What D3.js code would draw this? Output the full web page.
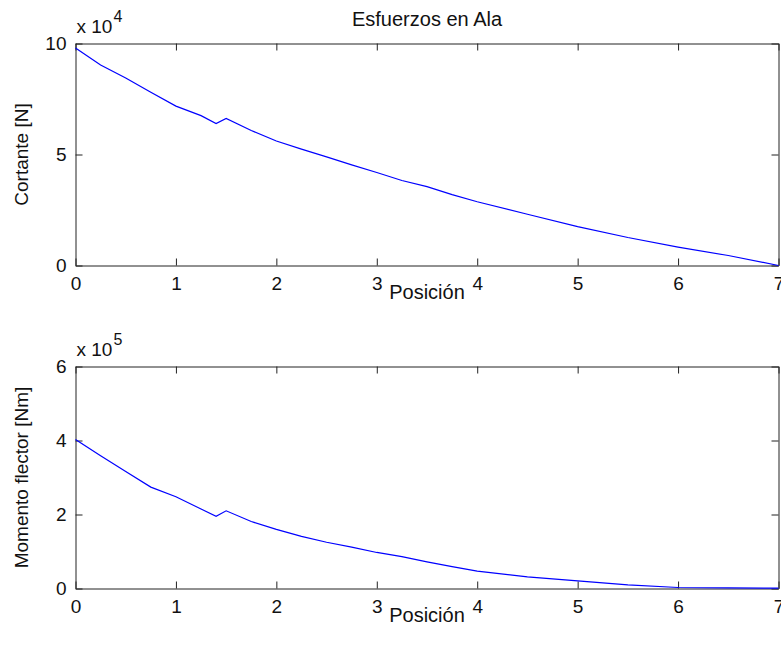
<!DOCTYPE html>
<html>
<head>
<meta charset="utf-8">
<script src="https://cdn.jsdelivr.net/npm/d3@7"></script>
<style>
  html, body { margin: 0; padding: 0; background: #fff; }
  svg { display: block; }
  text { font-family: "Liberation Sans", Arial, Helvetica, sans-serif; fill: #111; }
</style>
</head>
<body>
<svg id="chart" width="781" height="646"></svg>
<script>
// Span positions along the wing [m]
const positions = [0, 0.25, 0.5, 0.75, 1.0, 1.25, 1.4, 1.5, 1.75, 2.0, 2.25, 2.5, 2.75,
                   3.0, 3.25, 3.5, 3.75, 4.0, 4.5, 5.0, 5.5, 6.0, 6.5, 7.0];
// Shear force [N]
const shear = [98000, 90300, 84500, 78000, 71800, 67500, 63900, 66200, 60800, 56100, 52400, 48900, 45300,
               41900, 38300, 35500, 31900, 28700, 23100, 17500, 12600, 8300, 4500, 0];
// Bending moment [Nm]
const moment = [403000, 359000, 316000, 274000, 248000, 215000, 195000, 210000, 181000, 160000, 141000, 125000, 112000,
                97400, 86000, 72000, 59000, 47000, 31500, 20600, 9900, 2700, 1500, 1000];

const xTicks = [0, 1, 2, 3, 4, 5, 6, 7];
const shearTicks = [0, 50000, 100000];
const momentTicks = [0, 200000, 400000, 600000];

const title = "Esfuerzos en Ala";
const xLabel = "Posición";

const svg = d3.select("#chart");
const FS = 19;
const left = 75.5, right = 778.5;

const x = d3.scaleLinear().domain([0, 7]).range([left, right]);

function panel(opts) {
  const y = d3.scaleLinear().domain(opts.domain).range([opts.bottom, opts.top]);
  const g = svg.append("g");
  const axColor = "#222";
  const fmt = d => String(d / opts.scale);

  const bottomAxis = d3.axisBottom(x).tickValues(xTicks).tickSize(-7).tickSizeOuter(0).tickPadding(11).tickFormat(d3.format("d"));
  const topAxis = d3.axisTop(x).tickValues(xTicks).tickSize(-7).tickSizeOuter(0).tickFormat("");
  const leftAxis = d3.axisLeft(y).tickValues(opts.ticks).tickSize(-7).tickSizeOuter(0).tickPadding(9).tickFormat(fmt);
  const rightAxis = d3.axisRight(y).tickValues(opts.ticks).tickSize(-7).tickSizeOuter(0).tickFormat("");

  const axes = [
    [bottomAxis, `translate(0,${opts.bottom})`],
    [topAxis, `translate(0,${opts.top})`],
    [leftAxis, `translate(${left},0)`],
    [rightAxis, `translate(${right},0)`]
  ];
  axes.forEach(([ax, tr]) => {
    const a = g.append("g").attr("transform", tr).call(ax);
    a.selectAll("path.domain").attr("stroke", axColor).attr("stroke-width", 1);
    a.selectAll(".tick line").attr("stroke", axColor).attr("stroke-width", 1);
    a.selectAll("text").attr("font-size", FS).attr("fill", "#111")
      .style("font-family", '"Liberation Sans", Arial, sans-serif');
  });

  // data curve
  const line = d3.line().x((d, i) => x(positions[i])).y(d => y(d));
  g.append("path").datum(opts.values)
    .attr("d", line)
    .attr("fill", "none")
    .attr("stroke", "#0000ff")
    .attr("stroke-width", 1.2);

  // exponent multiplier
  const ex = g.append("text").attr("x", left + 1).attr("y", opts.top - 10.5).attr("font-size", 19);
  ex.append("tspan").text("x 10");
  ex.append("tspan").attr("dx", 1).attr("dy", -11).attr("font-size", 16).text(opts.exp);

  // y label
  g.append("text")
    .attr("transform", `translate(28,${(opts.top + opts.bottom) / 2}) rotate(-90)`)
    .attr("text-anchor", "middle")
    .attr("font-size", FS)
    .text(opts.yLabel);

  // x label
  g.append("text")
    .attr("x", (left + right) / 2)
    .attr("y", opts.bottom + 33.5)
    .attr("text-anchor", "middle")
    .attr("font-size", 20)
    .text(xLabel);
}

panel({ top: 43.5, bottom: 265.5, domain: [0, 100000], ticks: shearTicks, scale: 10000,
        values: shear, exp: "4", yLabel: "Cortante [N]" });
panel({ top: 366.5, bottom: 588.5, domain: [0, 600000], ticks: momentTicks, scale: 100000,
        values: moment, exp: "5", yLabel: "Momento flector [Nm]" });

svg.append("text")
  .attr("x", (left + right) / 2)
  .attr("y", 26)
  .attr("text-anchor", "middle")
  .attr("font-size", 20)
  .text(title);
</script>
</body>
</html>
